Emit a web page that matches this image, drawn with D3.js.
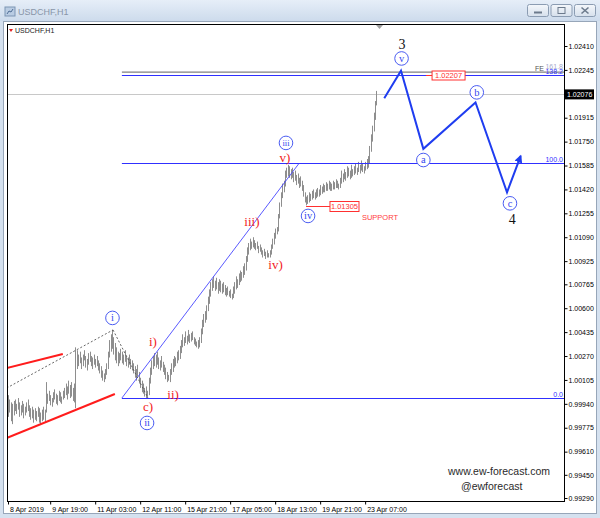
<!DOCTYPE html>
<html>
<head>
<meta charset="utf-8">
<script src="https://cdn.jsdelivr.net/npm/d3@7/dist/d3.min.js"></script>
<style>
body { margin: 0; background: #fff; }
svg { display: block; font-family: "Liberation Sans", Arial, sans-serif; }
</style>
</head>
<body>
<svg id="chart" width="600" height="518"></svg>
<script>
// USDCHF H1 bars, 8 Apr 2019 -> 23 Apr 2019 (one entry per hour)
const highs = [
  1.0000, 0.9997, 0.9995, 0.9994, 0.9996, 0.9997, 0.9994, 0.9998, 0.9995, 0.9993,
  0.9996, 0.9994, 0.9992, 0.9995, 0.9997, 0.9993, 0.9991, 0.9992, 0.9990, 0.9991,
  0.9989, 0.9992, 0.9991, 0.9988, 0.9990, 0.9992, 0.9990, 1.0009, 1.0001, 1.0003,
  1.0000, 0.9998, 1.0002, 1.0004, 1.0001, 1.0000, 1.0003, 1.0002, 0.9999, 1.0003,
  1.0005, 1.0008, 1.0006, 1.0010, 1.0007, 1.0009, 1.0005, 1.0008, 1.0033, 1.0031,
  1.0028, 1.0030, 1.0026, 1.0028, 1.0031, 1.0027, 1.0025, 1.0029, 1.0030, 1.0027,
  1.0026, 1.0028, 1.0025, 1.0027, 1.0024, 1.0022, 1.0020, 1.0017, 1.0015, 1.0018,
  1.0022, 1.0030, 1.0038, 1.0042, 1.0045, 1.0040, 1.0036, 1.0033, 1.0030, 1.0029,
  1.0032, 1.0030, 1.0028, 1.0031, 1.0027, 1.0026, 1.0028, 1.0025, 1.0024, 1.0022,
  1.0020, 1.0018, 1.0021, 1.0016, 1.0012, 1.0010, 1.0008, 1.0005, 1.0006, 1.0003,
  1.0012, 1.0019, 1.0024, 1.0027, 1.0029, 1.0028, 1.0030, 1.0026, 1.0024, 1.0027,
  1.0023, 1.0021, 1.0019, 1.0016, 1.0014, 1.0018, 1.0022, 1.0025, 1.0027, 1.0026,
  1.0030, 1.0031, 1.0034, 1.0038, 1.0042, 1.0040, 1.0044, 1.0041, 1.0045, 1.0042,
  1.0043, 1.0044, 1.0040, 1.0039, 1.0037, 1.0038, 1.0040, 1.0046, 1.0052, 1.0056,
  1.0058, 1.0062, 1.0068, 1.0073, 1.0078, 1.0080, 1.0082, 1.0079, 1.0081, 1.0078,
  1.0080, 1.0079, 1.0077, 1.0078, 1.0076, 1.0074, 1.0075, 1.0072, 1.0073, 1.0070,
  1.0075, 1.0078, 1.0082, 1.0080, 1.0084, 1.0086, 1.0085, 1.0089, 1.0091, 1.0096,
  1.0102, 1.0105, 1.0108, 1.0106, 1.0109, 1.0107, 1.0105, 1.0106, 1.0103, 1.0104,
  1.0102, 1.0100, 1.0101, 1.0099, 1.0100, 1.0098, 1.0100, 1.0104, 1.0108, 1.0112,
  1.0115, 1.0116, 1.0125, 1.0133, 1.0140, 1.0146, 1.0148, 1.0155, 1.0157, 1.0159,
  1.0158, 1.0156, 1.0157, 1.0154, 1.0155, 1.0152, 1.0153, 1.0150, 1.0151, 1.0148,
  1.0145, 1.0140, 1.0137, 1.0138, 1.0140, 1.0139, 1.0141, 1.0142, 1.0140, 1.0142,
  1.0143, 1.0142, 1.0145, 1.0144, 1.0146, 1.0145, 1.0147, 1.0146, 1.0148, 1.0147,
  1.0146, 1.0148, 1.0147, 1.0149, 1.0148, 1.0146, 1.0150, 1.0155, 1.0153, 1.0156,
  1.0154, 1.0158, 1.0157, 1.0155, 1.0159, 1.0156, 1.0158, 1.0160, 1.0157, 1.0161,
  1.0159, 1.0162, 1.0160, 1.0158, 1.0161, 1.0163, 1.0165, 1.0172, 1.0180, 1.0186,
  1.0195, 1.0203, 1.0210
];
const lows = [
  0.9985, 0.9988, 0.9982, 0.9980, 0.9986, 0.9989, 0.9987, 0.9990, 0.9985, 0.9986,
  0.9988, 0.9984, 0.9986, 0.9988, 0.9989, 0.9985, 0.9983, 0.9984, 0.9981, 0.9983,
  0.9982, 0.9985, 0.9981, 0.9980, 0.9982, 0.9983, 0.9981, 0.9988, 0.9994, 0.9996,
  0.9993, 0.9992, 0.9995, 0.9997, 0.9994, 0.9993, 0.9996, 0.9995, 0.9994, 0.9997,
  0.9998, 1.0000, 0.9997, 1.0001, 0.9998, 0.9999, 0.9996, 0.9995, 0.9991, 1.0018,
  1.0020, 1.0022, 1.0018, 1.0020, 1.0024, 1.0019, 1.0017, 1.0021, 1.0023, 1.0020,
  1.0018, 1.0021, 1.0019, 1.0020, 1.0017, 1.0015, 1.0012, 1.0010, 1.0009, 1.0011,
  1.0014, 1.0018, 1.0026, 1.0030, 1.0032, 1.0028, 1.0024, 1.0022, 1.0020, 1.0022,
  1.0024, 1.0022, 1.0021, 1.0023, 1.0020, 1.0019, 1.0021, 1.0018, 1.0017, 1.0015,
  1.0012, 1.0010, 1.0013, 1.0008, 1.0005, 1.0002, 1.0001, 0.9999, 0.9998, 0.9998,
  1.0000, 1.0008, 1.0014, 1.0018, 1.0020, 1.0019, 1.0021, 1.0018, 1.0017, 1.0019,
  1.0016, 1.0014, 1.0011, 1.0009, 1.0010, 1.0009, 1.0014, 1.0016, 1.0019, 1.0020,
  1.0022, 1.0024, 1.0025, 1.0029, 1.0033, 1.0034, 1.0036, 1.0035, 1.0037, 1.0036,
  1.0037, 1.0038, 1.0035, 1.0034, 1.0033, 1.0032, 1.0033, 1.0036, 1.0042, 1.0047,
  1.0050, 1.0052, 1.0058, 1.0063, 1.0068, 1.0072, 1.0074, 1.0072, 1.0073, 1.0070,
  1.0072, 1.0071, 1.0070, 1.0071, 1.0069, 1.0068, 1.0069, 1.0068, 1.0067, 1.0066,
  1.0067, 1.0070, 1.0073, 1.0074, 1.0076, 1.0078, 1.0079, 1.0081, 1.0083, 1.0086,
  1.0092, 1.0097, 1.0100, 1.0101, 1.0102, 1.0101, 1.0100, 1.0101, 1.0098, 1.0099,
  1.0097, 1.0095, 1.0096, 1.0094, 1.0095, 1.0095, 1.0095, 1.0097, 1.0101, 1.0104,
  1.0108, 1.0111, 1.0113, 1.0122, 1.0130, 1.0136, 1.0140, 1.0144, 1.0150, 1.0151,
  1.0150, 1.0149, 1.0150, 1.0147, 1.0148, 1.0145, 1.0146, 1.0143, 1.0144, 1.0141,
  1.0137, 1.0133, 1.0131, 1.0132, 1.0133, 1.0134, 1.0135, 1.0136, 1.0135, 1.0136,
  1.0137, 1.0137, 1.0138, 1.0139, 1.0140, 1.0140, 1.0141, 1.0141, 1.0142, 1.0141,
  1.0141, 1.0142, 1.0142, 1.0143, 1.0143, 1.0142, 1.0143, 1.0146, 1.0147, 1.0149,
  1.0148, 1.0150, 1.0151, 1.0149, 1.0150, 1.0151, 1.0152, 1.0153, 1.0152, 1.0154,
  1.0153, 1.0155, 1.0154, 1.0153, 1.0155, 1.0156, 1.0157, 1.0160, 1.0168, 1.0175,
  1.0182, 1.0190, 1.0200
];

const priceTicks = [1.02410, 1.02245, 1.01915, 1.01750, 1.01585, 1.01420, 1.01255, 1.01090,
  1.00925, 1.00765, 1.00600, 1.00435, 1.00270, 1.00105, 0.99940, 0.99775, 0.99610, 0.99450, 0.99290];
const timeBars = [0, 30, 62, 94, 126, 158, 190, 222, 254];
const timeLabels = ["8 Apr 2019", "9 Apr 19:00", "11 Apr 03:00", "12 Apr 11:00", "15 Apr 21:00",
  "17 Apr 05:00", "18 Apr 13:00", "19 Apr 21:00", "23 Apr 07:00"];
const lastPrice = 1.02076;

// fibo expansion: 0.0 at the wave (ii) low, 100.0 at the wave (iii) high
const feLow = 0.9998, feHigh = 1.0160;
const feStartBar = 81, feEndBar = 207;
const feTarget = 1.02207, feUpper = 1.0223;
const supportPrice = 1.01305, supportBar = 212;

// channel + dotted lines  [bar1, price1, bar2, price2]
const channelLines = [[-1, 1.00187, 39, 1.00284], [-1, 0.99704, 76, 1.00008]];
const dottedLines = [[-1, 1.00049, 74.7, 1.0045], [74.7, 1.0045, 99.6, 0.9998]];

// projected wave 4 path
const forecastBars = [267.6, 279.5, 295.4, 332.5, 354.9, 364.6];
const forecastPrices = [1.0205, 1.0224, 1.0170, 1.0202, 1.0140, 1.0165];

// wave labels [text, bar, price]
const circleLabels = [["i", 74.3, 1.00533], ["ii", 98.9, 0.99808], ["iii", 197.7, 1.01741],
  ["iv", 213.4, 1.01237], ["v", 279.9, 1.02324], ["a", 295.4, 1.01623], ["b", 333.4, 1.02090], ["c", 357.0, 1.01324]];
const redLabels = [["c)", 99.6, 0.99918], ["i)", 103.1, 1.00367], ["ii)", 117.4, 1.00001],
  ["iii)", 173.5, 1.01195], ["iv)", 190.3, 1.00898], ["v)", 197.0, 1.01637]];
const degreeLabels = [["3", 280.2, 1.02424], ["4", 358.7, 1.01214]];

const plot = { left: 7, right: 564, top: 24, bottom: 501 };

const x = d3.scaleLinear().domain([0, 397]).range([8, 566.2]);
const y = d3.scaleLinear().domain([0.99290, 1.02410]).range([498, 46]);

const svg = d3.select("#chart");
const defs = svg.append("defs");

const tg = defs.append("linearGradient").attr("id", "titleGrad")
  .attr("x1", 0).attr("y1", 0).attr("x2", 0).attr("y2", 1);
tg.append("stop").attr("offset", "0%").attr("stop-color", "#e6eef8");
tg.append("stop").attr("offset", "100%").attr("stop-color", "#cddbec");

const bg = defs.append("linearGradient").attr("id", "btnGrad")
  .attr("x1", 0).attr("y1", 0).attr("x2", 0).attr("y2", 1);
bg.append("stop").attr("offset", "0%").attr("stop-color", "#f4f7fb");
bg.append("stop").attr("offset", "100%").attr("stop-color", "#d6e0ec");

defs.append("clipPath").attr("id", "plotClip")
  .append("rect")
  .attr("x", plot.left).attr("y", plot.top)
  .attr("width", plot.right - plot.left).attr("height", plot.bottom - plot.top);

// window frame
svg.append("rect").attr("width", 600).attr("height", 518).attr("fill", "#d5e1ef");
svg.append("rect").attr("width", 600).attr("height", 21).attr("fill", "url(#titleGrad)");
svg.append("rect")
  .attr("x", 3.5).attr("y", 21.5).attr("width", 593).attr("height", 492)
  .attr("fill", "#fff").attr("stroke", "#97a6b9");

// title bar
const icon = svg.append("g").attr("transform", "translate(5,7)");
icon.append("rect").attr("width", 10).attr("height", 9).attr("fill", "#b9cce3").attr("stroke", "#7d95b3");
icon.append("path").attr("d", "M2,7 L4,4 L6,5 L8,2").attr("fill", "none").attr("stroke", "#4f6d95");
svg.append("text").attr("x", 18).attr("y", 15)
  .attr("font-size", 9).attr("fill", "#8895a8").text("USDCHF,H1");

const btnX = [527, 550.5, 574];
btnX.forEach((bx, i) => {
  svg.append("rect").attr("x", bx + 0.5).attr("y", 4.5).attr("width", 21).attr("height", 12)
    .attr("rx", 2).attr("fill", "url(#btnGrad)").attr("stroke", "#8b9cb2");
  const cx = bx + 11, cy = 10.5;
  if (i === 0) {
    svg.append("rect").attr("x", cx - 4).attr("y", cy + 1).attr("width", 8).attr("height", 2).attr("fill", "#6c7a8c");
  } else if (i === 1) {
    svg.append("rect").attr("x", cx - 3.5).attr("y", cy - 3).attr("width", 7).attr("height", 6)
      .attr("fill", "none").attr("stroke", "#6c7a8c");
  } else {
    svg.append("path").attr("d", `M${cx - 3.5},${cy - 3} L${cx + 3.5},${cy + 3} M${cx + 3.5},${cy - 3} L${cx - 3.5},${cy + 3}`)
      .attr("stroke", "#6c7a8c").attr("stroke-width", 1.6);
  }
});

// chart body
const body = svg.append("g").attr("clip-path", "url(#plotClip)");

// current price line
body.append("line")
  .attr("x1", plot.left).attr("x2", plot.right)
  .attr("y1", Math.round(y(lastPrice)) + 0.5).attr("y2", Math.round(y(lastPrice)) + 0.5)
  .attr("stroke", "#c8c8c8");

// bars
body.append("g").selectAll("line")
  .data(highs)
  .join("line")
  .attr("x1", (d, i) => Math.round(x(i)) + 0.5)
  .attr("x2", (d, i) => Math.round(x(i)) + 0.5)
  .attr("y1", (d) => y(d))
  .attr("y2", (d, i) => y(lows[i]))
  .attr("stroke", "#8e8e8e")
  .attr("stroke-width", 1);

// fibo expansion levels
body.append("line")
  .attr("x1", x(feStartBar)).attr("x2", plot.right)
  .attr("y1", y(feUpper)).attr("y2", y(feUpper))
  .attr("stroke", "#808080").attr("stroke-width", 1.2);
[feLow, feHigh, feTarget].forEach((p) => {
  body.append("line")
    .attr("x1", x(feStartBar)).attr("x2", plot.right)
    .attr("y1", Math.round(y(p)) + 0.5).attr("y2", Math.round(y(p)) + 0.5)
    .attr("stroke", "#3030ff").attr("stroke-width", 1);
});
body.append("line")
  .attr("x1", x(feStartBar)).attr("y1", y(feLow))
  .attr("x2", x(feEndBar)).attr("y2", y(feHigh))
  .attr("stroke", "#4646ff").attr("stroke-width", 0.9);

// fibo level texts
const feText = body.append("g").attr("font-size", 7).attr("text-anchor", "end");
feText.append("text").attr("x", plot.right - 20).attr("y", y(feUpper) - 1.5).attr("fill", "#555").text("FE");
feText.append("text").attr("x", plot.right - 1).attr("y", y(feUpper) - 3).attr("fill", "#a8abcc").text("161.8");
feText.append("text").attr("x", plot.right - 1).attr("y", y(feTarget) - 1).attr("fill", "#3030ff").text("138.2");
feText.append("text").attr("x", plot.right - 1).attr("y", y(feHigh) - 1.5).attr("fill", "#3030ff").text("100.0");
feText.append("text").attr("x", plot.right - 1).attr("y", y(feLow) - 1.5).attr("fill", "#3030ff").text("0.0");

// red channel
body.append("g").selectAll("line")
  .data(channelLines)
  .join("line")
  .attr("x1", (d) => x(d[0])).attr("y1", (d) => y(d[1]))
  .attr("x2", (d) => x(d[2])).attr("y2", (d) => y(d[3]))
  .attr("stroke", "#ff1c1c").attr("stroke-width", 2);

// dotted wave lines
body.append("g").selectAll("line")
  .data(dottedLines)
  .join("line")
  .attr("x1", (d) => x(d[0])).attr("y1", (d) => y(d[1]))
  .attr("x2", (d) => x(d[2])).attr("y2", (d) => y(d[3]))
  .attr("stroke", "#555").attr("stroke-width", 0.9).attr("stroke-dasharray", "2,2");

// support level
const supY = Math.round(y(supportPrice)) + 0.5;
body.append("line")
  .attr("x1", x(supportBar)).attr("x2", x(229)).attr("y1", supY).attr("y2", supY)
  .attr("stroke", "#ff3030");
body.append("rect")
  .attr("x", x(229)).attr("y", supY - 5).attr("width", 29).attr("height", 10)
  .attr("fill", "#fff").attr("stroke", "#ff3030");
body.append("text")
  .attr("x", x(229) + 14.5).attr("y", supY + 2.5).attr("text-anchor", "middle")
  .attr("font-size", 7.5).attr("fill", "#ff3030").text(d3.format(".5f")(supportPrice));
body.append("text")
  .attr("x", x(251) + 1).attr("y", supY + 13).attr("font-size", 7.5)
  .attr("fill", "#ff4040").text("SUPPORT");

// target label
const tgtY = Math.round(y(feTarget)) + 0.5;
body.append("line")
  .attr("x1", x(297.3)).attr("x2", x(301.6)).attr("y1", tgtY).attr("y2", tgtY)
  .attr("stroke", "#ff3030");
body.append("rect")
  .attr("x", x(301.6)).attr("y", tgtY - 4.5).attr("width", 33).attr("height", 9)
  .attr("fill", "#fff").attr("stroke", "#ff3030");
body.append("text")
  .attr("x", x(301.6) + 16.5).attr("y", tgtY + 2.5).attr("text-anchor", "middle")
  .attr("font-size", 7.5).attr("fill", "#ff3030").text(d3.format(".5f")(feTarget));

// forecast path
defs.append("marker").attr("id", "arrow")
  .attr("viewBox", "0 0 10 10").attr("refX", 8).attr("refY", 5)
  .attr("markerWidth", 4).attr("markerHeight", 4).attr("orient", "auto")
  .append("path").attr("d", "M0,0 L10,5 L0,10 Z").attr("fill", "#1f3df0");

const fLine = d3.line().x((d) => x(d[0])).y((d) => y(d[1]));
body.append("path")
  .datum(forecastBars.map((b, i) => [b, forecastPrices[i]]))
  .attr("d", fLine)
  .attr("fill", "none").attr("stroke", "#1f3df0").attr("stroke-width", 2)
  .attr("stroke-linejoin", "miter")
  .attr("marker-end", "url(#arrow)");

// wave labels
const circ = body.append("g").selectAll("g")
  .data(circleLabels)
  .join("g")
  .attr("transform", (d) => `translate(${x(d[1])},${y(d[2])})`);
circ.append("circle").attr("r", 6.8).attr("fill", "#fff").attr("stroke", "#4a5cf2").attr("stroke-width", 1);
circ.append("text")
  .attr("text-anchor", "middle").attr("dy", "0.33em")
  .attr("font-family", "Liberation Serif, serif")
  .attr("font-size", (d) => d[0].length > 2 ? 8.5 : 10.5)
  .attr("fill", "#3446f0")
  .text((d) => d[0]);

body.append("g").selectAll("text")
  .data(redLabels)
  .join("text")
  .attr("x", (d) => x(d[1])).attr("y", (d) => y(d[2]))
  .attr("text-anchor", "middle").attr("dy", "0.33em")
  .attr("font-family", "Liberation Serif, serif").attr("font-size", 13)
  .attr("fill", "#f2221e")
  .text((d) => d[0]);

body.append("g").selectAll("text")
  .data(degreeLabels)
  .join("text")
  .attr("x", (d) => x(d[1])).attr("y", (d) => y(d[2]))
  .attr("text-anchor", "middle").attr("dy", "0.35em")
  .attr("font-family", "Liberation Serif, serif").attr("font-size", 14)
  .attr("fill", "#111")
  .text((d) => d[0]);

// symbol label + shift marker
body.append("path").attr("d", "M9,29 L13,29 L11,32 Z").attr("fill", "#e02020");
body.append("text").attr("x", 15).attr("y", 33).attr("font-size", 7).attr("fill", "#222").text("USDCHF,H1");
body.append("path").attr("d", "M376,25 L383,25 L379.5,29 Z").attr("fill", "#a0a0a0");

// watermark
svg.append("text").attr("x", 448).attr("y", 475).attr("font-size", 10.5).attr("fill", "#2a2a2a").text("www.ew-forecast.com");
svg.append("text").attr("x", 461).attr("y", 490).attr("font-size", 10.5).attr("fill", "#2a2a2a").text("@ewforecast");

// chart border
svg.append("rect")
  .attr("x", plot.left + 0.5).attr("y", plot.top + 0.5)
  .attr("width", plot.right - plot.left).attr("height", plot.bottom - plot.top)
  .attr("fill", "none").attr("stroke", "#000");

// price axis
const yAxis = d3.axisRight(y).tickValues(priceTicks).tickSize(3).tickPadding(1)
  .tickFormat(d3.format(".5f"));
const yg = svg.append("g").attr("transform", `translate(${plot.right + 0.5},0)`).call(yAxis);
yg.select(".domain").remove();
yg.selectAll("text").attr("font-size", 7).attr("font-family", "Liberation Sans, Arial, sans-serif").attr("fill", "#000");

// current price box
const lpY = y(lastPrice);
svg.append("rect").attr("x", plot.right + 1).attr("y", lpY - 5).attr("width", 29).attr("height", 10).attr("fill", "#000");
svg.append("text").attr("x", plot.right + 3).attr("y", lpY + 2.5).attr("font-size", 7).attr("fill", "#fff")
  .text(d3.format(".5f")(lastPrice));

// time axis
const xAxis = d3.axisBottom(x).tickValues(timeBars).tickSize(3).tickPadding(3)
  .tickFormat((d, i) => timeLabels[i]);
const xg = svg.append("g").attr("transform", `translate(0,${plot.bottom + 0.5})`).call(xAxis);
xg.select(".domain").remove();
xg.selectAll("text")
  .attr("text-anchor", "start").attr("dx", 1.5)
  .attr("font-size", 7).attr("font-family", "Liberation Sans, Arial, sans-serif").attr("fill", "#000");
</script>
</body>
</html>
